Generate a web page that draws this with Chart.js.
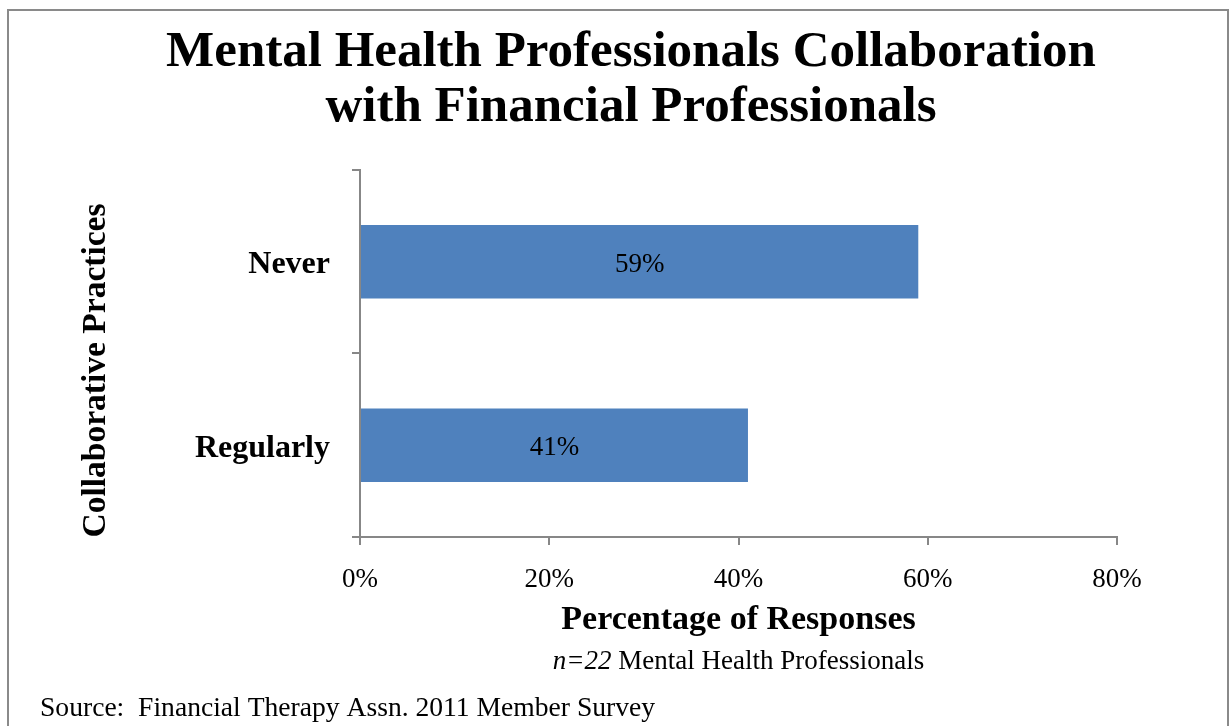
<!DOCTYPE html>
<html>
<head>
<meta charset="utf-8">
<title>Mental Health Professionals Collaboration with Financial Professionals</title>
<script src="https://cdn.jsdelivr.net/npm/chart.js@4/dist/chart.umd.min.js"></script>
<style>
  html, body { margin: 0; padding: 0; background: #fff; }
  #wrap { position: relative; width: 1231px; height: 726px; overflow: hidden; }
  #frame {
    position: absolute; left: 7px; top: 9px; width: 1218px; height: 760px;
    border: 2px solid #8a8a8a;
  }
  #chart-1 { position: absolute; left: 0; top: 0; }
</style>
</head>
<body>
<div id="wrap">
  <div id="frame"></div>
  <canvas id="chart-1" width="1231" height="726"></canvas>
</div>
<script>
  const categories = ['Never', 'Regularly'];
  const responseShare = [59, 41];
  const tickValues = [0, 20, 40, 60, 80];

  const titleLines = ['Mental Health Professionals Collaboration', 'with Financial Professionals'];
  const xAxisTitle = 'Percentage of Responses';
  const yAxisTitle = 'Collaborative Practices';
  const sampleNote = ['n=22', ' Mental Health Professionals'];
  const sourceNote = 'Source:  Financial Therapy Assn. 2011 Member Survey';

  const serif = "'Liberation Serif', 'Times New Roman', serif";
  const axisGray = '#878787';

  // bar values written inside each bar, plus the rotated y title and footer notes
  const notesPlugin = {
    id: 'notes',
    afterDatasetsDraw(chart) {
      const ctx = chart.ctx;
      const meta = chart.getDatasetMeta(0);
      ctx.save();
      ctx.font = '27px ' + serif;
      ctx.fillStyle = '#000';
      ctx.textAlign = 'center';
      ctx.textBaseline = 'middle';
      meta.data.forEach((bar, i) => {
        const p = bar.getProps(['x', 'y', 'base'], true);
        ctx.fillText(chart.data.datasets[0].data[i] + '%', (p.x + p.base) / 2, p.y + 3);
      });
      ctx.restore();
    },
    afterDraw(chart) {
      const ctx = chart.ctx;
      const area = chart.chartArea;
      ctx.save();
      ctx.fillStyle = '#000';

      ctx.save();
      ctx.font = 'bold 33.5px ' + serif;
      ctx.translate(105, (area.top + area.bottom) / 2 + 17);
      ctx.rotate(-Math.PI / 2);
      ctx.textAlign = 'center';
      ctx.textBaseline = 'alphabetic';
      ctx.fillText(yAxisTitle, 0, 0);
      ctx.restore();

      // italic "n=22" followed by the plain part, centred under the plot
      ctx.textBaseline = 'alphabetic';
      ctx.textAlign = 'left';
      ctx.font = 'italic 27px ' + serif;
      const w1 = ctx.measureText(sampleNote[0]).width;
      ctx.font = '27px ' + serif;
      const w2 = ctx.measureText(sampleNote[1]).width;
      let x = (area.left + area.right) / 2 - (w1 + w2) / 2;
      ctx.font = 'italic 27px ' + serif;
      ctx.fillText(sampleNote[0], x, 669);
      ctx.font = '27px ' + serif;
      ctx.fillText(sampleNote[1], x + w1, 669);

      ctx.font = '27.6px ' + serif;
      ctx.fillText(sourceNote, 40, 716);
      ctx.restore();
    }
  };

  const data = {
    labels: categories,
    datasets: [{
      label: xAxisTitle,
      data: responseShare,
      backgroundColor: '#4f81bd',
      borderWidth: 0,
      barPercentage: 0.4,
      categoryPercentage: 1.0
    }]
  };

  const config = {
    type: 'bar',
    data: data,
    options: {
      indexAxis: 'y',
      responsive: false,
      devicePixelRatio: 1,
      animation: false,
      layout: { padding: { left: 145, right: 114, top: 0, bottom: 0 } },
      plugins: {
        legend: { display: false },
        tooltip: { enabled: false },
        title: {
          display: true,
          text: titleLines,
          color: '#000',
          font: { family: serif, size: 51, weight: 'bold', lineHeight: 1.078 },
          padding: { top: 25, bottom: 35 }
        }
      },
      scales: {
        x: {
          min: 0,
          max: 80,
          afterBuildTicks: s => { s.ticks = tickValues.map(v => ({ value: v })); },
          afterFit: s => { s.height = 189; },
          grid: { drawOnChartArea: false, tickLength: 8, color: axisGray, lineWidth: 2 },
          border: { color: axisGray, width: 2 },
          ticks: {
            color: '#000',
            font: { family: serif, size: 27 },
            padding: 19,
            callback: v => v + '%'
          },
          title: {
            display: true,
            text: xAxisTitle,
            color: '#000',
            font: { family: serif, size: 34, weight: 'bold' },
            padding: { top: 0, bottom: 85 }
          }
        },
        y: {
          afterFit: s => { s.width = 215; },
          grid: { drawOnChartArea: false, offset: true, tickLength: 8, color: axisGray, lineWidth: 2 },
          border: { color: axisGray, width: 2 },
          ticks: {
            color: '#000',
            font: { family: serif, size: 32, weight: 'bold' },
            padding: 22,
            labelOffset: 3
          }
        }
      }
    },
    plugins: [notesPlugin]
  };

  const chart1 = new Chart(
    document.getElementById('chart-1'),
    config
  );
</script>
</body>
</html>
